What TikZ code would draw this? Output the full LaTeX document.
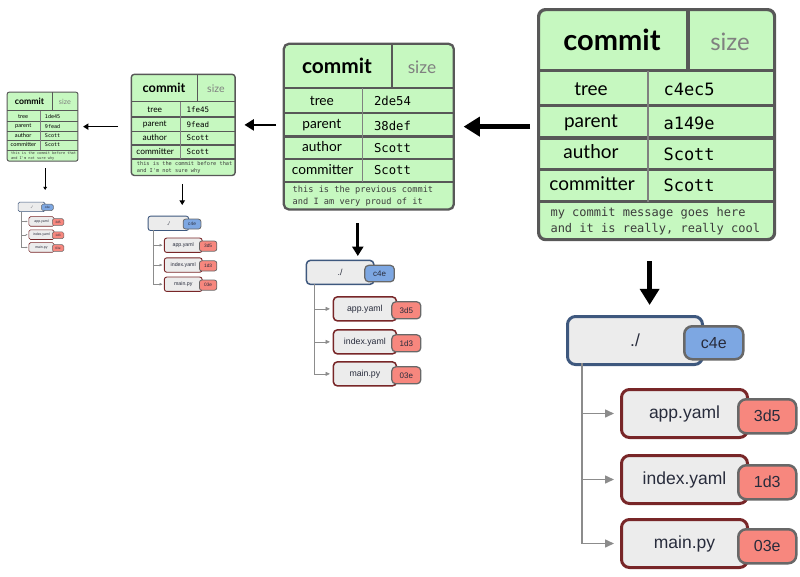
\documentclass[tikz,border=0pt]{standalone}
\usepackage{fontspec}
\setmainfont{Lato}
\newfontfamily\monof{DejaVu Sans Mono}
\newfontfamily\arialf{Liberation Sans}
\usetikzlibrary{arrows.meta}
\definecolor{cgreen}{RGB}{198,248,192}
\definecolor{cborder}{RGB}{88,88,88}
\definecolor{cdiv}{RGB}{128,128,128}
\definecolor{csize}{RGB}{128,128,128}
\definecolor{cmsg}{RGB}{60,60,60}
\definecolor{ctreefill}{RGB}{236,236,236}
\definecolor{cdir}{RGB}{62,88,126}
\definecolor{cfile}{RGB}{120,38,40}
\definecolor{cdirtag}{RGB}{125,167,226}
\definecolor{cfiletag}{RGB}{247,135,126}
\definecolor{ctagborder}{RGB}{104,104,104}
\definecolor{cline}{RGB}{140,140,140}
\definecolor{ctext}{RGB}{40,44,60}
\tikzset{
  arr/.style={draw=black, line width=#1, -{Triangle[length=0pt 3.6, width=0pt 4.2]}},
  fieldname/.style={anchor=base, font=\fontsize{19}{19}\selectfont},
  fieldval/.style={anchor=base west, font=\monof\fontsize{17}{17}\selectfont},
  msgline/.style={anchor=base west, text=cmsg, font=\monof\fontsize{12}{12}\selectfont},
  fbox/.style={fill=ctreefill, anchor=north west, inner sep=0pt, text=ctext,
    font=\arialf\fontsize{17.5}{17.5}\selectfont},
  tagbox/.style={draw=ctagborder, anchor=north west, inner sep=0pt, text=ctext,
    font=\arialf\fontsize{16}{16}\selectfont, minimum width=58pt, minimum height=34pt},
}
% commit box: name, origin, scale, tree, parent, msg line 1, msg line 2
\newcommand\commitbox[7]{%
\pgfmathsetlengthmacro\lwo{#3*3.2pt}%
\pgfmathsetlengthmacro\lwi{#3*1.4pt}%
\pgfmathsetlengthmacro\rc{#3*7pt}%
\begin{scope}[shift={#2},scale=#3,transform shape]
\node[draw=cborder, fill=cgreen, line width=\lwo, rounded corners=\rc,
  minimum width=236pt, minimum height=230pt, anchor=north west, inner sep=0pt] (#1) at (0,0) {};
\draw[cborder, line width=\lwo] (151,0) -- (151,62.5)
  (0,62.5) -- (236,62.5) (0,97.5) -- (236,97.5) (0,130) -- (236,130)
  (0,161.5) -- (236,161.5) (0,193.5) -- (236,193.5);
\draw[cdiv, line width=\lwi] (111,62.5) -- (111,193.5);
\node[anchor=base, font=\bfseries\fontsize{29}{29}\selectfont] (#1-title) at (75,42) {commit};
\node[anchor=base, text=csize, font=\fontsize{24}{24}\selectfont] (#1-size) at (193,42) {size};
\node[fieldname] (#1-kt) at (54,87) {tree};
\node[fieldname] (#1-kp) at (54,119) {parent};
\node[fieldname] (#1-ka) at (54,150) {author};
\node[fieldname] (#1-kc) at (55,182) {committer};
\node[fieldval] (#1-vt) at (123,87) {#4};
\node[fieldval] (#1-vp) at (123,121) {#5};
\node[fieldval] (#1-va) at (123,152) {Scott};
\node[fieldval] (#1-vc) at (123,183) {Scott};
\node[msgline] (#1-m1) at (10,208) {#6};
\node[msgline] (#1-m2) at (10,224) {#7};
\end{scope}}
% file tree: name, origin, scale
\newcommand\filetree[3]{%
\pgfmathsetlengthmacro\lwb{#3*3pt}%
\pgfmathsetlengthmacro\lwt{#3*2.5pt}%
\pgfmathsetlengthmacro\lwl{#3*1.5pt}%
\pgfmathsetlengthmacro\rcb{#3*8pt}%
\pgfmathsetlengthmacro\tl{#3*9pt}%
\pgfmathsetlengthmacro\tw{#3*8pt}%
\pgfmathsetlengthmacro\sh{#3*6pt}%
\begin{scope}[shift={#2},scale=#3,transform shape]
\node[fbox, draw=cdir, line width=\lwb, rounded corners=\rcb, minimum width=135pt,
  minimum height=48pt, text width=135pt, align=center] (#1) at (0,0) {./};
\node[tagbox, fill=cdirtag, line width=\lwt, rounded corners=\rcb, minimum width=59pt,
  minimum height=33pt] (#1-tag) at (117,10) {c4e};
\node[fbox, draw=cfile, line width=\lwb, rounded corners=\rcb, minimum width=126pt,
  minimum height=48pt] (#1-f1) at (54,73) {app.yaml};
\node[tagbox, fill=cfiletag, line width=\lwt, rounded corners=\rcb] (#1-t1) at (171,83) {3d5};
\node[fbox, draw=cfile, line width=\lwb, rounded corners=\rcb, minimum width=126pt,
  minimum height=48pt] (#1-f2) at (54,139) {index.yaml};
\node[tagbox, fill=cfiletag, line width=\lwt, rounded corners=\rcb] (#1-t2) at (171,149) {1d3};
\node[fbox, draw=cfile, line width=\lwb, rounded corners=\rcb, minimum width=126pt,
  minimum height=48pt] (#1-f3) at (54,203) {main.py};
\node[tagbox, fill=cfiletag, line width=\lwt, rounded corners=\rcb] (#1-t3) at (171,213) {03e};
\coordinate (#1-sp) at (16,48);
\draw[cline, line width=\lwl, shorten >=\sh, -{Triangle[length=\tl, width=\tw]}]
  (#1-sp) |- (#1-f3.west);
\draw[cline, line width=\lwl, shorten >=\sh, -{Triangle[length=\tl, width=\tw]}]
  (#1-sp |- #1-f1.west) -- (#1-f1.west);
\draw[cline, line width=\lwl, shorten >=\sh, -{Triangle[length=\tl, width=\tw]}]
  (#1-sp |- #1-f2.west) -- (#1-f2.west);
\end{scope}}
\begin{document}
\begin{tikzpicture}[x=1pt, y=-1pt]
\useasboundingbox (0,0) rectangle (800,576);
\commitbox{c1}{(537,8)}{1}{c4ec5}{a149e}{my commit message goes here}{and it is really, really cool}
\commitbox{c2}{(283,43)}{0.72}{2de54}{38def}{this is the previous commit}{and I am very proud of it}
\commitbox{c3}{(131,74)}{0.44}{1fe45}{9fead}{this is the commit before that}{and I'm not sure why}
\commitbox{c4}{(7,92)}{0.3}{1de45}{9fead}{this is the commit before that}{and I'm not sure why}
\filetree{t1}{(566,315)}{1}
\filetree{t2}{(306,260)}{0.5}
\filetree{t3}{(148,216)}{0.3}
\filetree{t4}{(18,202)}{0.2}
\draw[arr=4.5pt, shorten <=7pt, shorten >=9pt] (c1.west |- c2.east) -- (c2.east);
\draw[arr=2.6pt, shorten <=7pt, shorten >=9pt] (c2.west |- c3.east) -- (c3.east);
\draw[arr=1.5pt, shorten <=13pt, shorten >=5pt] (c3.west |- c4.east) -- (c4.east);
\draw[arr=4.5pt, shorten <=20pt, shorten >=10pt] ([xshift=-7pt]c1.south) -- ([xshift=-7pt]c1.south |- t1.north);
\draw[arr=2.6pt, shorten <=13pt, shorten >=4pt] ([xshift=-11pt]c2.south) -- ([xshift=-11pt]c2.south |- t2.north);
\draw[arr=1.3pt, shorten <=8pt, shorten >=11pt] ([xshift=-1pt]c3.south) -- ([xshift=-1pt]c3.south |- t3.north);
\draw[arr=0.9pt, shorten <=7pt, shorten >=12pt] ([xshift=2.6pt]c4.south) -- ([xshift=2.6pt]c4.south |- t4.north);
\end{tikzpicture}
\end{document}
